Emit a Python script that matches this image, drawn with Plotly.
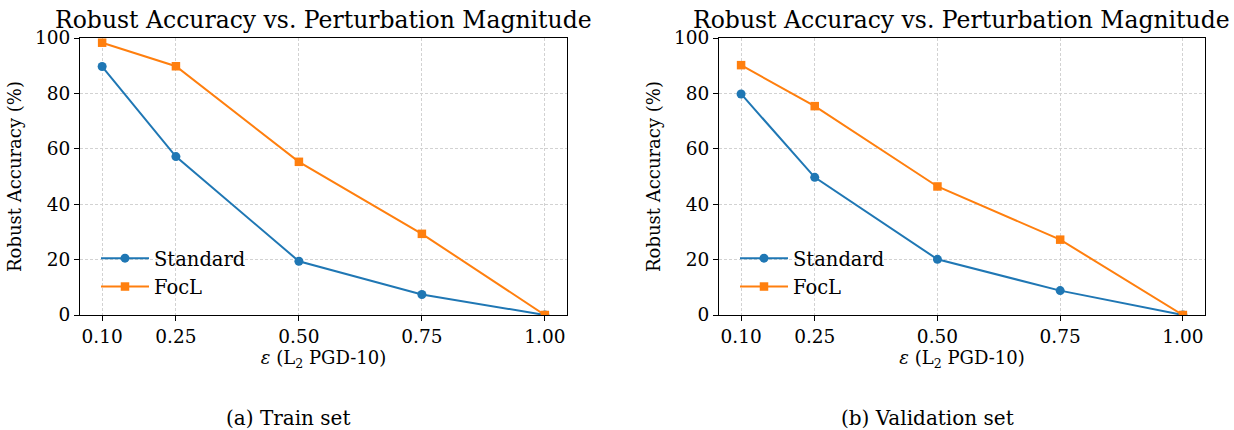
import plotly.graph_objects as go

eps = [0.10, 0.25, 0.50, 0.75, 1.00]
eps_labels = ["0.10", "0.25", "0.50", "0.75", "1.00"]
train_standard = [89.7, 57.2, 19.4, 7.4, 0.0]
train_focl = [98.3, 89.8, 55.3, 29.3, 0.0]
val_standard = [79.8, 49.7, 20.1, 8.8, 0.0]
val_focl = [90.2, 75.4, 46.4, 27.2, 0.0]
y_ticks = [0, 20, 40, 60, 80, 100]
captions = ["(a) Train set", "(b) Validation set"]

BLUE = "#1f77b4"
ORANGE = "#ff7f0e"
FONT = "DejaVu Serif"
W, H = 1234, 430

fig = go.Figure()

panels = [
    (train_standard, train_focl, "x", "y", "legend", (80, 567), 287.5),
    (val_standard, val_focl, "x2", "y2", "legend2", (719, 1205), 927),
]
for std, foc, xa, ya, lg, _, _ in panels:
    fig.add_trace(go.Scatter(x=eps, y=std, mode="lines+markers", name="Standard",
                             line=dict(color=BLUE, width=2),
                             marker=dict(symbol="circle", size=9, color=BLUE),
                             xaxis=xa, yaxis=ya, legend=lg))
    fig.add_trace(go.Scatter(x=eps, y=foc, mode="lines+markers", name="FocL",
                             line=dict(color=ORANGE, width=2),
                             marker=dict(symbol="square", size=8.5, color=ORANGE),
                             xaxis=xa, yaxis=ya, legend=lg))

y_top, y_bot = 38, 315
ydom = [1 - y_bot / H, 1 - y_top / H]

axis_common = dict(showline=True, linecolor="black", linewidth=1, mirror=True,
                   ticks="outside", ticklen=5, tickcolor="black", automargin=False,
                   showgrid=True, gridcolor="#d2d2d2", griddash="3px,2px", gridwidth=0.8,
                   zeroline=False, tickfont=dict(family=FONT, size=18.5, color="black"))

layout = dict(width=W, height=H, margin=dict(l=0, r=0, t=0, b=0),
              plot_bgcolor="white", paper_bgcolor="white",
              font=dict(family=FONT, color="black"))

annotations = []
for i, (_, _, xa, ya, lg, (x0, x1), capx) in enumerate(panels):
    sfx = "" if i == 0 else "2"
    layout["xaxis" + sfx] = dict(axis_common, domain=[x0 / W, x1 / W], range=[0.055, 1.045],
                                 tickvals=eps, ticktext=eps_labels,
                                 anchor="y" + sfx,
                                 title=dict(text="<i>ε</i> (L<sub>2</sub> PGD-10)",
                                            font=dict(family=FONT, size=18), standoff=5))
    layout["yaxis" + sfx] = dict(axis_common, domain=ydom, range=[0, 100],
                                 tickvals=y_ticks, anchor="x" + sfx,
                                 title=dict(text="Robust Accuracy (%)",
                                            font=dict(family=FONT, size=18), standoff=8))
    layout[lg] = dict(x=(x0 + 16) / W, y=1 - 239 / H, xanchor="left", yanchor="top",
                      bgcolor="rgba(0,0,0,0)", borderwidth=0,
                      font=dict(family=FONT, size=19.5), itemwidth=48)
    cx = (x0 + x1) / 2 / W
    annotations.append(dict(text="Robust Accuracy vs. Perturbation Magnitude",
                            x=cx, y=1 - 20 / H, xref="paper", yref="paper",
                            xanchor="center", yanchor="middle", showarrow=False,
                            font=dict(family=FONT, size=23.5)))
    annotations.append(dict(text=captions[i], x=capx / W,
                            y=1 - 418 / H, xref="paper", yref="paper",
                            xanchor="center", yanchor="middle", showarrow=False,
                            font=dict(family=FONT, size=20)))

layout["annotations"] = annotations
fig.update_layout(**layout)
fig.write_html("out.html", config={"displayModeBar": False},
               post_script="document.body.style.margin='0';document.body.style.overflow='hidden';")
